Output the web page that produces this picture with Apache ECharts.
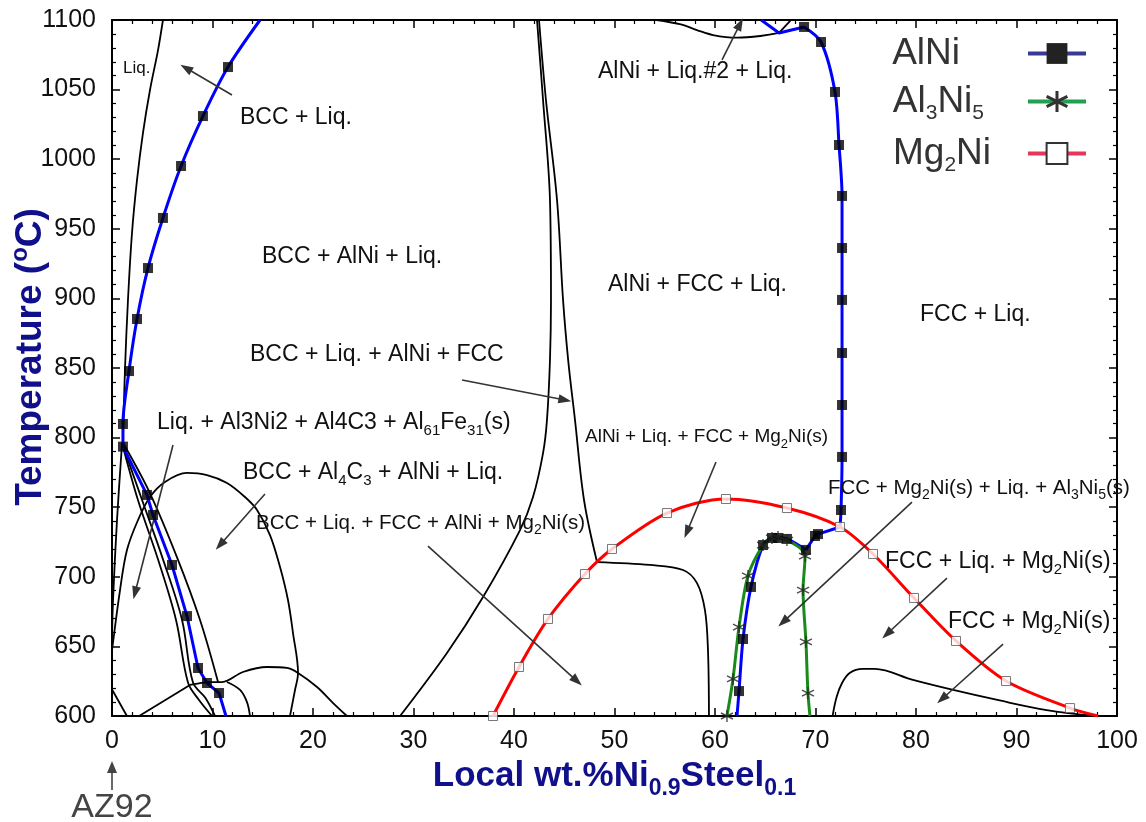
<!DOCTYPE html>
<html>
<head>
<meta charset="utf-8">
<title>Phase diagram AZ92 - Ni0.9Steel0.1</title>
<script src="https://cdn.jsdelivr.net/npm/echarts@6/dist/echarts.min.js"></script>
<style>
  html, body { margin: 0; padding: 0; background: #fff; }
  #main { width: 1146px; height: 822px; }
</style>
</head>
<body>
<div id="main"></div>
<script>
// ---- AlNi (blue, filled squares) ----
const alniLeftUpper = [[14.73,1100],[11.54,1066.2],[9.05,1031],[6.87,995.1],[5.07,957.8],[3.58,921.8],[2.49,885.2],[1.69,847.8],[1.09,809.8],[1.09,793.5]]
const alniLeftLower = [[1.09,793.5],[3.48,758.8],[4.08,744.4],[5.97,708.5],[7.46,671.8],[8.56,634.5],[9.45,623.7],[10.65,616.5],[11.34,600]]
const alniTopKink = [[64.6,1100],[66.37,1090.7],[68.86,1095]]
const alniRightUpper = [[68.86,1095],[70.55,1084.2],[71.94,1048.3],[72.34,1010.2],[72.64,973.6],[72.64,936.2],[72.64,898.9],[72.64,860.8],[72.64,823.4],[72.64,786.1],[72.54,748],[72.44,735.8]]
const alniStep = [[72.44,735.8],[70.25,730.7],[69.95,729.3],[69.05,719.3]]
const alniDome = [[69.05,719.3],[67.16,727.2],[66.27,727.9],[65.67,727.9],[64.78,722.8],[63.58,692.7],[62.79,655.3],[62.39,617.9],[62.19,600]]
const alniMarks = [[11.54,1066.2],[9.05,1031],[6.87,995.1],[5.07,957.8],[3.58,921.8],[2.49,885.2],[1.69,847.8],[1.09,809.8],[1.09,793.5],
  [3.48,758.8],[4.08,744.4],[5.97,708.5],[7.46,671.8],[8.56,634.5],[9.45,623.7],[10.65,616.5],
  [68.86,1095],[70.55,1084.2],[71.94,1048.3],[72.34,1010.2],[72.64,973.6],[72.64,936.2],[72.64,898.9],[72.64,860.8],[72.64,823.4],[72.64,786.1],[72.54,748],
  [70.25,730.7],[69.95,729.3],[69.05,719.3],[67.16,727.2],[66.27,727.9],[65.67,727.9],[64.78,722.8],[63.58,692.7],[62.79,655.3],[62.39,617.9]]

// ---- Al3Ni5 (green, asterisks) ----
const al3ni5Curve = [[61.19,600],[61.79,626.6],[62.39,663.9],[63.28,700.6],[64.78,722.8],[65.67,727.9],[66.27,728.6],[67.16,726.4],[68.46,720.7],[68.96,714.9],[68.76,690.5],[69.05,653.2],[69.25,616.5],[69.45,600]]
const al3ni5Marks = [[61.19,600],[61.79,626.6],[62.39,663.9],[63.28,700.6],[64.78,722.8],[65.67,727.9],[66.27,728.6],[67.16,726.4],[68.96,714.9],[68.76,690.5],[69.05,653.2],[69.25,616.5]]

// ---- Mg2Ni (red, open squares) ----
const mg2niCurve = [[37.91,600],[40.5,635.2],[43.38,669.7],[47.06,702],[49.75,720],[55.22,745.8],[61.09,755.9],[67.16,749.4],[72.44,735.8],[75.72,716.4],[79.8,684.8],[83.98,653.9],[88.96,625.1],[95.32,605.7],[98.11,600]]
const mg2niMarks = [[37.91,600],[40.5,635.2],[43.38,669.7],[47.06,702],[49.75,720],[55.22,745.8],[61.09,755.9],[67.16,749.4],[72.44,735.8],[75.72,716.4],[79.8,684.8],[83.98,653.9],[88.96,625.1],[95.32,605.7]]

// ---- black phase boundaries ----
const bLiquidus = [[5.07,1100],[4.58,1078.4],[3.78,1049.7],[3.08,1018.8],[2.49,985.1],[1.99,947],[1.59,898.9],[1.29,848.6],[1.09,798]]
const bLeftDrop = [[1.0,796],[0.5,741],[0.1,683],[0,655]]
const bBigDome = [[0,647],[0.8,690.5],[1.49,719.3],[2.59,740.8],[3.78,757.3],[5.27,768.1],[7.46,774.6],[9.45,773.1],[11.44,767.4],[13.23,757.3],[14.43,748],[15.72,730],[16.72,707],[17.51,683.3],[18.01,659.6],[18.51,630.9],[18.21,618.7],[17.71,600]]
const bSmallDomeFoot = [[2.7,600],[7.76,622.3]]
const bSmallDome = [[7.76,622.3],[9.75,624.4],[10.95,624.4],[13.03,631.6],[15.42,635.2],[17.41,634.5],[18.51,630.9],[20.4,620.8],[22.0,609.3],[23.38,600]]
const bBundle1 = [[1.0,796],[2.59,755],[4.6,712],[6.37,669],[7.56,624],[8.6,612],[9.95,600]]
const bBundle2 = [[1.0,796],[3.0,755],[5.1,712],[6.97,669],[8.06,624],[9.3,613],[10.25,600]]
const bBundle3 = [[1.19,795],[3.78,760],[6.47,714],[8.76,669],[10.55,624.4]]
const bBundle4 = [[11.44,624.4],[12.74,618.7],[13.43,610],[13.73,600]]
const bCorner = [[0,619],[1.49,600]]
const bCentralLeft = [[42.29,1100],[42.89,1042.5],[43.58,970.7],[43.68,898.9],[43.58,855.7],[43.28,812.6],[42.89,788.9],[41.89,757.3],[40.6,733.6],[36.92,685.5],[33.33,645.3],[28.66,600]]
const bCentralRight = [[42.49,1100],[43.18,1042.5],[44.28,970.7],[44.88,898.9],[45.4,855],[46.07,812.6],[46.97,755],[48.26,710.6]]
const bFlat = [[48.26,710.6],[53.53,708.5],[56.82,704.9],[58.21,695.5],[59.0,676.1],[59.3,647.4],[59.4,600]]
const bTop = [[54.2,1100],[56.5,1097],[58.2,1092.8],[59.8,1089.2],[62.2,1087.3],[64.5,1088.5],[66.37,1090.7],[68.86,1095]]
const bTopV = [[66.37,1090.7],[67.5,1099.5]]
const bRightBottom = [[71.7,600],[72.1,613.6],[72.64,623.7],[73.4,630.9],[74.7,633.8],[75.9,633.8],[79.7,625.9],[83.7,618.7],[88.1,611.5],[93.0,604.3],[98.0,600]]

// ---- annotation arrows [tail, head] in data units ----
const arrows = [
  [[11.94,1046.1],[7.36,1065.5]],
  [[34.83,841.4],[45.07,827.0]],
  [[6.07,794.7],[2.29,688.4]],
  [[15.22,759.5],[10.75,722.9]],
  [[31.44,722.1],[46.27,625.1]],
  [[60.7,1071.3],[62.49,1097.1]],
  [[60.1,782.5],[57.21,732.2]],
  [[79.6,753.7],[66.77,667.5]],
  [[83.08,699.1],[77.11,658.9]],
  [[88.66,651.7],[82.59,612.2]]
]

const xTicks = { min: 0, max: 100, step: 10 }
const yTicks = { min: 600, max: 1100, step: 50 }

const FONT = 'Liberation Sans, Arial, Helvetica, sans-serif'
const NAVY = '#10108a'
const asterisk = 'path://M5 0L5 10M0.67 2.5L9.33 7.5M0.67 7.5L9.33 2.5'

function boundary (data, smooth) {
  return {
    type: 'line', data: data, smooth: smooth ? 0.35 : false, symbol: 'none',
    silent: true, z: 2, lineStyle: { color: '#000', width: 1.8 }
  }
}
function phaseLine (name, data, color, smooth, symbol, itemStyle) {
  return {
    name: name, type: 'line', data: data, smooth: smooth ? 0.3 : false,
    symbol: symbol, showSymbol: false, itemStyle: itemStyle, silent: true, z: 3,
    lineStyle: { color: color, width: 3 }
  }
}
function marks (name, data, symbol, size, itemStyle) {
  return { name: name, type: 'scatter', data: data, symbol: symbol, symbolSize: size, itemStyle: itemStyle, silent: true, z: 5 }
}

const subRich = function (size) {
  return { s: { fontSize: size, fontFamily: FONT, fill: '#111', padding: [Math.round(size * 1.05), 0, 0, 0] } }
}
function label (x, y, text, size) {
  return {
    type: 'text', x: x, y: y, z: 50,
    style: { text: text, font: size + 'px ' + FONT, fill: '#111', verticalAlign: 'middle', rich: subRich(Math.round(size * 0.66)) }
  }
}

const alniStyle = { color: '#000' }
const al3ni5Style = { color: 'rgba(0,0,0,0)', borderColor: '#222', borderWidth: 1.4 }
const mg2niStyle = { color: '#fff', borderColor: '#555', borderWidth: 1 }

const boundaries = [
  boundary(bLiquidus, true), boundary(bLeftDrop, true), boundary(bBigDome, true),
  boundary(bSmallDomeFoot, false), boundary(bSmallDome, true), boundary(bBundle1, true),
  boundary(bBundle2, true), boundary(bBundle3, true), boundary(bBundle4, true),
  boundary(bCorner, false), boundary(bCentralLeft, true), boundary(bCentralRight, true),
  boundary(bFlat, true), boundary(bTop, true), boundary(bTopV, false), boundary(bRightBottom, true)
]
boundaries[0].markLine = {
  silent: true, symbol: ['none', 'triangle'], symbolSize: [9, 13], animation: false,
  lineStyle: { color: '#333', width: 1.6, type: 'solid' }, label: { show: false },
  data: arrows.map(a => [{ coord: a[0] }, { coord: a[1] }])
}

const chart = echarts.init(document.getElementById('main'))
const axisCommon = {
  type: 'value',
  axisLine: { onZero: false, lineStyle: { color: '#000', width: 2 } },
  axisTick: { inside: true, length: 8, lineStyle: { color: '#000', width: 1.5 } },
  minorTick: { show: true, splitNumber: 5, length: 4, lineStyle: { color: '#000', width: 1.2 } },
  splitLine: { show: false }
}
chart.setOption({
  animation: false,
  textStyle: { fontFamily: FONT },
  grid: { left: 112, right: 29, top: 20, bottom: 106, containLabel: false, outerBoundsMode: 'none' },
  xAxis: [
    Object.assign({}, axisCommon, {
      min: xTicks.min, max: xTicks.max, interval: xTicks.step, position: 'bottom',
      axisLabel: { fontSize: 25, color: '#111', margin: 13, fontFamily: FONT, formatter: v => String(v) },
      name: 'Local wt.%Ni{s|0.9}Steel{s|0.1}', nameLocation: 'middle', nameGap: 34,
      nameTextStyle: {
        fontSize: 35, fontWeight: 'bold', color: NAVY, fontFamily: FONT,
        rich: { s: { fontSize: 23, fontWeight: 'bold', color: NAVY, fontFamily: FONT, padding: [24, 0, 0, 0] } }
      }
    }),
    Object.assign({}, axisCommon, {
      min: xTicks.min, max: xTicks.max, interval: xTicks.step, position: 'top', axisLabel: { show: false }
    })
  ],
  yAxis: [
    Object.assign({}, axisCommon, {
      min: yTicks.min, max: yTicks.max, interval: yTicks.step, position: 'left',
      axisLabel: { fontSize: 25, color: '#111', margin: 16, fontFamily: FONT, formatter: v => String(v) }
    }),
    Object.assign({}, axisCommon, {
      min: yTicks.min, max: yTicks.max, interval: yTicks.step, position: 'right', axisLabel: { show: false }
    })
  ],
  legend: {
    orient: 'vertical', right: 53, top: 30, align: 'right', itemGap: 11,
    itemWidth: 58, itemHeight: 26,
    textStyle: {
      fontSize: 37, color: '#333', fontFamily: FONT,
      rich: { s: { fontSize: 21, color: '#333', fontFamily: FONT, padding: [24, 0, 0, 0] } }
    },
    formatter: function (name) {
      return { AlNi: 'AlNi', Al3Ni5: 'Al{s|3}Ni{s|5}', Mg2Ni: 'Mg{s|2}Ni' }[name]
    },
    data: [
      { name: 'AlNi', lineStyle: { color: '#3a3a96', width: 4 }, itemStyle: { color: '#222' }, textStyle: { padding: [0, 63, 0, 0] } },
      { name: 'Al3Ni5', lineStyle: { color: '#20a050', width: 4 }, itemStyle: { color: 'rgba(0,0,0,0)', borderColor: '#333', borderWidth: 3 }, textStyle: { padding: [0, 39, 0, 0] } },
      { name: 'Mg2Ni', lineStyle: { color: '#e8365a', width: 4 }, itemStyle: { color: '#fff', borderColor: '#333', borderWidth: 2 }, textStyle: { padding: [0, 32, 0, 0] } }
    ]
  },
  graphic: [
    {
      type: 'text', x: 31, y: 357, rotation: Math.PI / 2, z: 50,
      style: {
        text: 'Temperature ({p|o}C)', font: 'bold 37px ' + FONT, fill: NAVY, align: 'center', verticalAlign: 'middle',
        rich: { p: { fontSize: 24, fontWeight: 'bold', fontFamily: FONT, fill: NAVY, padding: [0, 0, 22, 0] } }
      }
    },
    label(123, 68, 'Liq.', 17),
    label(240, 118, 'BCC + Liq.', 23),
    label(262, 257, 'BCC + AlNi + Liq.', 23),
    label(250, 355, 'BCC + Liq. + AlNi + FCC', 23),
    label(157, 423, 'Liq. + Al3Ni2 + Al4C3 + Al{s|61}Fe{s|31}(s)', 23),
    label(243, 473, 'BCC + Al{s|4}C{s|3} + AlNi + Liq.', 23),
    label(256, 523, 'BCC + Liq. + FCC + AlNi + Mg{s|2}Ni(s)', 20.5),
    label(598, 72, 'AlNi + Liq.#2 + Liq.', 23),
    label(608, 285, 'AlNi + FCC + Liq.', 23),
    label(920, 315, 'FCC + Liq.', 23),
    label(585, 437, 'AlNi + Liq. + FCC + Mg{s|2}Ni(s)', 19),
    label(828, 488, 'FCC + Mg{s|2}Ni(s) + Liq. + Al{s|3}Ni{s|5}(s)', 20.5),
    label(885, 562, 'FCC + Liq. + Mg{s|2}Ni(s)', 23),
    label(948, 622, 'FCC + Mg{s|2}Ni(s)', 23),
    {
      type: 'text', x: 112, y: 808, z: 50,
      style: { text: 'AZ92', font: '34px ' + FONT, fill: '#444', align: 'center', verticalAlign: 'middle' }
    },
    { type: 'line', shape: { x1: 112, y1: 790, x2: 112, y2: 770 }, style: { stroke: '#444', lineWidth: 1.6 } },
    { type: 'polygon', shape: { points: [[112, 761], [107, 773], [117, 773]] }, style: { fill: '#444' } }
  ],
  series: boundaries.concat([
    phaseLine('AlNi', alniLeftUpper, '#0000ff', true, 'rect', alniStyle),
    phaseLine('AlNi', alniLeftLower, '#0000ff', false, 'rect', alniStyle),
    phaseLine('AlNi', alniTopKink, '#0000ff', false, 'rect', alniStyle),
    phaseLine('AlNi', alniRightUpper, '#0000ff', true, 'rect', alniStyle),
    phaseLine('AlNi', alniStep, '#0000ff', false, 'rect', alniStyle),
    phaseLine('AlNi', alniDome, '#0000ff', true, 'rect', alniStyle),
    phaseLine('Al3Ni5', al3ni5Curve, '#1a8a1a', true, asterisk, al3ni5Style),
    phaseLine('Mg2Ni', mg2niCurve, '#ff0000', true, 'rect', mg2niStyle),
    marks('AlNi', alniMarks, 'rect', 10, alniStyle),
    marks('Al3Ni5', al3ni5Marks, asterisk, 12, al3ni5Style),
    marks('Mg2Ni', mg2niMarks, 'rect', 9, mg2niStyle)
  ])
})
</script>
</body>
</html>
